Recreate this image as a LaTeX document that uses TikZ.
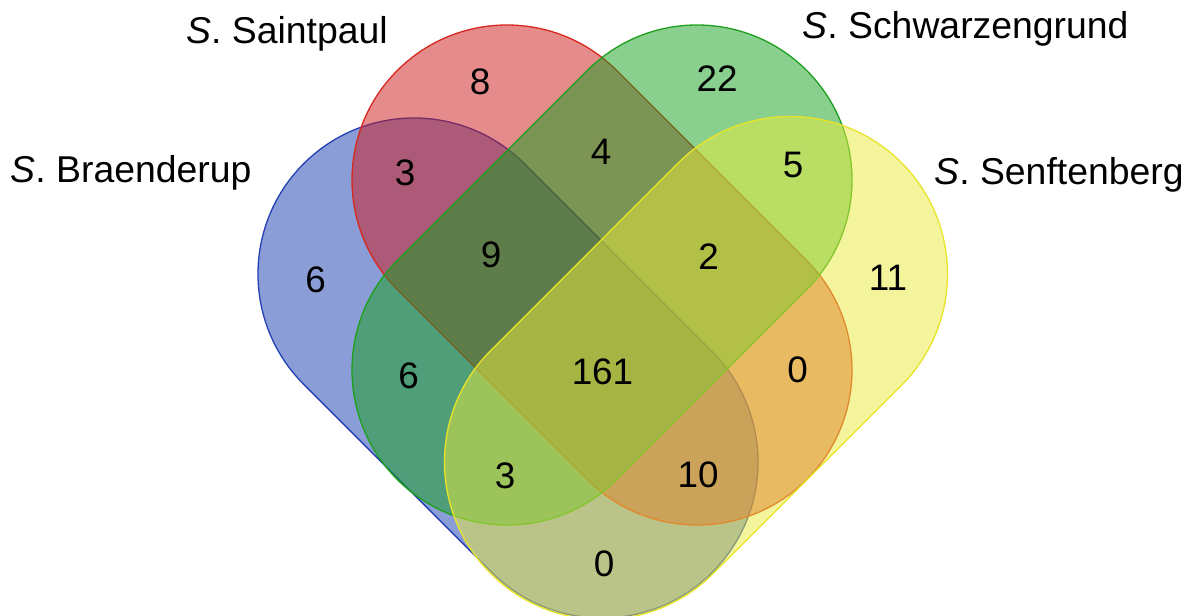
\documentclass[tikz,border=0pt]{standalone}
\usepackage{fontspec}
\setmainfont{Liberation Sans}
\definecolor{fblue}{RGB}{25,60,175}
\definecolor{fred}{RGB}{205,25,25}
\definecolor{fgreen}{RGB}{20,160,30}
\definecolor{fyellow}{RGB}{235,235,60}
\definecolor{lblue}{RGB}{35,65,180}
\definecolor{lred}{RGB}{215,40,30}
\definecolor{lgreen}{RGB}{30,160,30}
\definecolor{lyellow}{RGB}{232,228,40}
\tikzset{
  setshape/.style={line width=1.3bp, fill opacity=0.5, draw opacity=1},
  num/.style={font=\fontsize{37}{40}\selectfont, inner sep=0pt},
  lab/.style={font=\fontsize{37.5}{40}\selectfont, inner sep=0pt, anchor=base},
}
% #1,#2 centre of first cap, #3 direction, #4 length, #5 radius, #6 line colour, #7 fill colour
\newcommand\vennset[7]{%
  \begin{scope}[shift={(#1,#2)}, rotate=#3]
    \draw[setshape, draw=#6, fill=#7] (0bp,#5bp) -- (#4bp,#5bp)
      arc[start angle=90, end angle=-90, radius=#5bp] -- (0bp,-#5bp)
      arc[start angle=270, end angle=90, radius=#5bp] -- cycle;
  \end{scope}}
\begin{document}
\begin{tikzpicture}[x=1bp, y=1bp]
  \fill[white] (0,0) rectangle (1195,-616);
  \useasboundingbox (0,0) rectangle (1195,-616);
  % sets: blue, red, green, yellow
  \vennset{414}{-274}{-45}{265.9}{156}{lblue}{fblue}
  \vennset{507}{-180}{-45}{268.7}{155}{lred}{fred}
  \vennset{697}{-180}{-135}{268.7}{155}{lgreen}{fgreen}
  \vennset{790}{-274}{-135}{265.9}{157.5}{lyellow}{fyellow}
  % labels
  \node[lab] (lsp) at (287,-44) {\textit{S}. Saintpaul};
  \node[lab] (lbr) at (131,-183) {\textit{S}. Braenderup};
  \node[lab] (lsc) at (965.5,-39) {\textit{S}. Schwarzengrund};
  \node[lab] (lse) at (1059,-185) {\textit{S}. Senftenberg};
  % numbers
  \node[num] (n1) at (480,-81.5) {8};
  \node[num] (n2) at (717,-78.5) {22};
  \node[num] (n3) at (405,-172.5) {3};
  \node[num] (n4) at (601,-152) {4};
  \node[num] (n5) at (793,-165) {5};
  \node[num] (n6) at (315.5,-280) {6};
  \node[num] (n7) at (491,-254.5) {9};
  \node[num] (n8) at (708.5,-256.5) {2};
  \node[num] (n9) at (888,-277.5) {11};
  \node[num] (n10) at (408.5,-376) {6};
  \node[num] (n11) at (602.5,-371.5) {161};
  \node[num] (n12) at (797.5,-370) {0};
  \node[num] (n13) at (505,-476) {3};
  \node[num] (n14) at (698,-475) {10};
  \node[num] (n15) at (604,-563.5) {0};
\end{tikzpicture}
\end{document}
